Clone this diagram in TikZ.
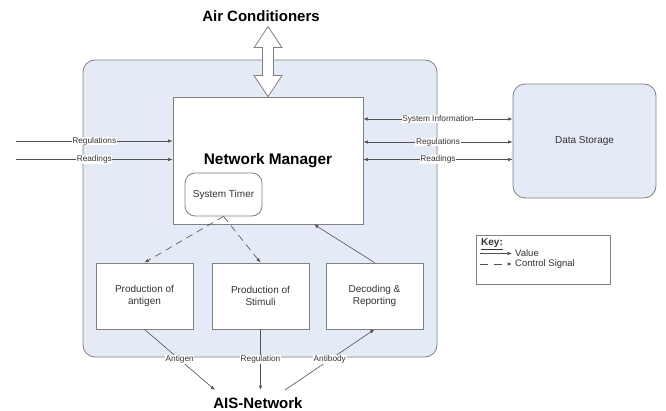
\documentclass[tikz,border=0pt]{standalone}
\usepackage{fontspec}
\setmainfont{Liberation Sans}
\usetikzlibrary{arrows.meta}
\definecolor{bluefill}{HTML}{E4EBF6}
\definecolor{boxgray}{HTML}{808080}
\definecolor{linegray}{HTML}{505050}
\definecolor{textgray}{HTML}{333333}
\begin{document}
\begin{tikzpicture}[x=1pt,y=-1pt,
  box/.style={draw=boxgray, fill=white, line width=0.8pt, inner sep=0pt, align=center,
    font=\fontsize{10}{11.7}\selectfont, text=textgray},
  lbl/.style={fill=white, inner sep=0.6pt, font=\fontsize{8.3}{9}\selectfont, text=textgray},
  conn/.style={draw=linegray, line width=0.6pt, -{Latex[length=4.5pt,width=3.4pt]}},
  bconn/.style={draw=linegray, line width=0.6pt, {Latex[length=4.5pt,width=3.4pt]}-{Latex[length=4.5pt,width=3.4pt]}},
  dconn/.style={conn, dash pattern=on 7pt off 5pt},
  bigtitle/.style={font=\fontsize{15}{18}\selectfont\bfseries, text=black},
  keytext/.style={font=\fontsize{9.5}{11}\selectfont, text=textgray, inner sep=0pt, anchor=west}]
\useasboundingbox (0,0) rectangle (666,411);

% outer system box
\node[draw=boxgray, fill=bluefill, line width=0.8pt, rounded corners=12pt,
  minimum width=354pt, minimum height=297pt] (outer) at (260,208.5) {};

% main boxes
\node[box, minimum width=190pt, minimum height=127pt,
  font=\fontsize{15.4}{18}\selectfont\bfseries, text=black] (NM) at (268,160.5) {Network Manager};
\node[box, rounded corners=10pt, minimum width=77pt, minimum height=43pt] (ST) at (223.5,194.5) {System Timer};
\node[box, fill=bluefill, rounded corners=12pt, minimum width=143pt, minimum height=114pt] (DS) at (584.5,141) {Data Storage};
\node[box, minimum width=97pt, minimum height=66pt] (B1) at (144.5,296) {Production of\\antigen};
\node[box, minimum width=97pt, minimum height=66pt] (B2) at (260.5,296) {Production of\\Stimuli};
\node[box, minimum width=97pt, minimum height=66pt] (B3) at (374.5,296) {Decoding \&\\Reporting};

% titles
\node[bigtitle] (AC) at (261,16) {Air Conditioners};
\node[bigtitle] (AIS) at (258,403) {AIS-Network};

% double arrow Air Conditioners <-> Network Manager
\draw[draw=boxgray, fill=white, line width=0.8pt, line join=miter, shift={(NM.north)}]
  (0,0) -- (-14,-21) -- (-5.5,-21) -- (-5.5,-49) -- (-14,-49) -- (0,-70)
  -- (14,-49) -- (5.5,-49) -- (5.5,-21) -- (14,-21) -- cycle;

% left inputs
\coordinate (inA) at (16,141);
\coordinate (inB) at (16,159.5);
\draw[conn] (inA) -- (NM.west |- inA) node[lbl, midway] {Regulations};
\draw[conn] (inB) -- (NM.west |- inB) node[lbl, midway] {Readings};

% NM <-> Data Storage
\coordinate (r1) at (0,119);
\coordinate (r2) at (0,142);
\coordinate (r3) at (0,159.5);
\draw[bconn] (NM.east |- r1) -- (DS.west |- r1) node[lbl, midway] {System Information};
\draw[bconn] (NM.east |- r2) -- (DS.west |- r2) node[lbl, midway] {Regulations};
\draw[bconn] (NM.east |- r3) -- (DS.west |- r3) node[lbl, midway] {Readings};

% control signals
\draw[dconn] (ST.south) -- (B1.north);
\draw[dconn] (ST.south) -- (B2.north);
\coordinate (nmin) at (314,0);
\draw[conn] (B3.north) -- (NM.south -| nmin);

% AIS network
\coordinate (aisL) at (215,390);
\coordinate (aisM) at (260.5,390);
\coordinate (aisR) at (285,390);
\draw[conn] (B1.south) -- (aisL) node[lbl, midway] {Antigen};
\draw[conn] (B2.south) -- (aisM) node[lbl, midway] {Regulation};
\draw[conn] (aisR) -- (B3.south) node[lbl, midway] {Antibody};

% key
\node[draw=boxgray, fill=white, line width=0.8pt, minimum width=134pt, minimum height=49pt] (key) at (543,259.5) {};
\node[keytext, font=\fontsize{10}{12}\selectfont\bfseries] (keyt) at (481,244) {\underline{Key:}};
\coordinate (kv1) at (480,253.5);
\coordinate (kv2) at (512,253.5);
\coordinate (kc1) at (480,264);
\coordinate (kc2) at (512,264);
\draw[conn] (kv1) -- (kv2);
\draw[conn, dash pattern=on 8pt off 6pt] (kc1) -- (kc2);
\node[keytext] (kval) at (515,253.5) {Value};
\node[keytext] (kcs) at (515,264.5) {Control Signal};
\end{tikzpicture}
\end{document}
